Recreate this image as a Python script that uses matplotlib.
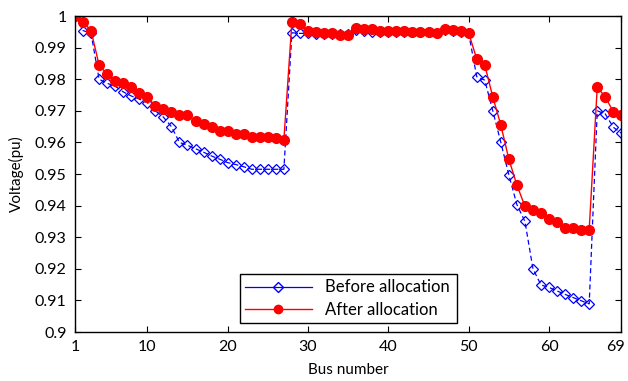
import numpy as np
import matplotlib
matplotlib.use("Agg")
import matplotlib.pyplot as plt
import matplotlib.transforms as mtransforms
from matplotlib.lines import Line2D

plt.rcParams['font.family'] = ['Lato', 'DejaVu Sans']

bus = np.arange(1, 70)

# voltage before allocation (pu)
before = [1.0000, 0.9954, 0.9945, 0.9800, 0.9787, 0.9778, 0.9760, 0.9747, 0.9737, 0.9726,
          0.9700, 0.9680, 0.9650, 0.9600, 0.9591, 0.9580, 0.9569, 0.9557, 0.9547, 0.9536,
          0.9530, 0.9523, 0.9515, 0.9515, 0.9515, 0.9515, 0.9515, 0.9947, 0.9945, 0.9945,
          0.9944, 0.9943, 0.9943, 0.9942, 0.9942, 0.9955, 0.9952, 0.9950, 0.9950, 0.9949,
          0.9949, 0.9949, 0.9948, 0.9948, 0.9948, 0.9947, 0.9955, 0.9953, 0.9950, 0.9945,
          0.9808, 0.9797, 0.9700, 0.9600, 0.9497, 0.9403, 0.9350, 0.9200, 0.9149, 0.9141,
          0.9130, 0.9119, 0.9109, 0.9099, 0.9089, 0.9700, 0.9690, 0.9648, 0.9629]

# voltage after allocation (pu)
after = [1.0000, 0.9982, 0.9953, 0.9845, 0.9816, 0.9795, 0.9787, 0.9774, 0.9755, 0.9744,
         0.9715, 0.9706, 0.9696, 0.9686, 0.9686, 0.9667, 0.9657, 0.9648, 0.9637, 0.9637,
         0.9627, 0.9627, 0.9618, 0.9618, 0.9618, 0.9613, 0.9608, 0.9982, 0.9974, 0.9953,
         0.9948, 0.9945, 0.9945, 0.9941, 0.9940, 0.9963, 0.9958, 0.9958, 0.9953, 0.9952,
         0.9951, 0.9951, 0.9949, 0.9949, 0.9949, 0.9947, 0.9959, 0.9955, 0.9952, 0.9946,
         0.9864, 0.9845, 0.9744, 0.9655, 0.9547, 0.9465, 0.9398, 0.9387, 0.9377, 0.9358,
         0.9348, 0.9328, 0.9328, 0.9324, 0.9324, 0.9775, 0.9744, 0.9697, 0.9686]

xticks = [1, 10, 20, 30, 40, 50, 60, 69]
yticks = np.arange(0.90, 1.0001, 0.01)
ylabels = ['0.9', '0.91', '0.92', '0.93', '0.94', '0.95', '0.96', '0.97', '0.98', '0.99', '1']

fig = plt.figure(figsize=(6.28, 3.81), dpi=100)
ax = fig.add_axes([0.1194, 0.1286, 0.8700, 0.8294])

ax.plot(bus, before, color='blue', linestyle='--', linewidth=0.9, dashes=(4, 2.5),
        marker='D', markersize=5.5, markerfacecolor='none', markeredgecolor='blue',
        markeredgewidth=0.9)
ax.plot(bus, after, color='red', linestyle='-', linewidth=1.0,
        marker='o', markersize=7, markerfacecolor='red', markeredgecolor='red')

ax.set_xlim(1, 69)
ax.set_ylim(0.9, 1.0)
ax.set_xticks(xticks)
ax.set_yticks(yticks)
ax.set_yticklabels(ylabels)
ax.tick_params(direction='in', top=True, right=True, length=4, width=0.8,
               labelsize=11.5, colors='black')
ax.tick_params(axis='x', pad=6)
ax.tick_params(axis='y', pad=6)
for s in ax.spines.values():
    s.set_linewidth(1.0)

# last x label sits a bit left so it stays inside the figure
lbl = ax.get_xticklabels()[-1]
lbl.set_transform(lbl.get_transform() +
                  mtransforms.ScaledTranslation(-4 / 72, 0, fig.dpi_scale_trans))

ax.set_xlabel('Bus number', fontsize=11, labelpad=6)
ax.set_ylabel('Voltage(pu)', fontsize=11, labelpad=8)

handles = [Line2D([], [], color='blue', linewidth=0.9, marker='D', markersize=5.5,
                  markerfacecolor='none', markeredgecolor='blue'),
           Line2D([], [], color='red', linewidth=1.0, marker='o', markersize=6,
                  markerfacecolor='red', markeredgecolor='red')]
leg = ax.legend(handles, ['Before allocation', 'After allocation'],
                loc='lower left', bbox_to_anchor=(0.302, 0.028, 0.398, 0.178),
                mode='expand', fancybox=False, edgecolor='black', framealpha=1,
                fontsize=12, handlelength=4, borderpad=0.3, labelspacing=0.4,
                borderaxespad=0)
leg.get_frame().set_linewidth(1.0)

fig.savefig('out.png', dpi=100)
